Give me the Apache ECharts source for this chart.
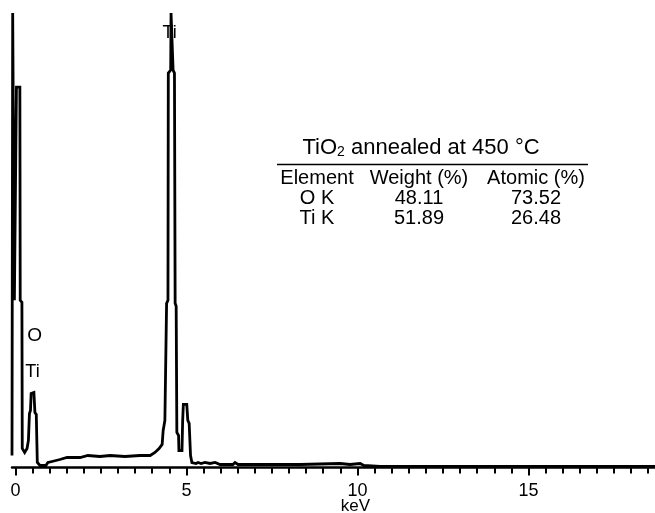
<!DOCTYPE html>
<html>
<head>
<meta charset="utf-8">
<script src="https://cdn.jsdelivr.net/npm/echarts@6/dist/echarts.min.js"></script>
<style>
html,body{margin:0;padding:0;background:#fff;}
#chart{width:655px;height:513px;}
</style>
</head>
<body>
<div id="chart"></div>
<script>
// Spectrum trace: energy (keV) and counts (arbitrary units)
var energy = [-0.10,-0.08,-0.05,-0.03,0.01,0.03,0.13,0.14,0.19,0.20,0.27,0.34,0.38,0.41,0.44,0.46,0.54,0.57,0.61,0.64,0.72,0.89,0.95,1.07,1.30,1.51,1.89,2.12,2.47,2.77,3.20,3.64,3.94,4.08,4.20,4.29,4.32,4.37,4.42,4.46,4.47,4.54,4.55,4.59,4.61,4.65,4.67,4.70,4.72,4.77,4.78,4.87,4.89,4.91,5.01,5.04,5.08,5.12,5.16,5.28,5.34,5.43,5.54,5.69,5.84,5.98,6.36,6.42,6.51,7.15,8.32,9.49,9.78,10.08,10.19,10.66,18.70];
var counts = [12,454,454,167,167,380,380,167,165,19,15,19,27,54,57,74,75,55,53,5,2,2,5,6,8,10,10,12,11,12,11,12,12,15,19,23,37,47,164,167,394,397,454,454,397,394,164,161,35,32,17,17,47,63,63,47,44,12,5,4,5,4,5,4,5,3,3,5,3,3,3,4,3,4,2,1,1];

// Peak annotations
var peakLabels = ['O', 'Ti', 'Ti'];
var peakEnergy = [0.56, 0.50, 4.51];
var peakCounts = [132, 95, 434];
var peakFont = [19, 18, 18];

// Axis
var majorTicks = [0, 5, 10, 15];
var minorTicks = [0,0.5,1,1.5,2,2.5,3,3.5,4,4.5,5,5.5,6,6.5,7,7.5,8,8.5,9,9.5,10,10.5,11,11.5,12,12.5,13,13.5,14,14.5,15,15.5,16,16.5,17,17.5,18,18.5];
var axisTitle = 'keV';

// Table
var tableTitle = 'TiO{sub|2} annealed at 450 °C';
var tableHeader = ['Element', 'Weight (%)', 'Atomic (%)'];
var tableElement = ['O K', 'Ti K'];
var tableWeight = ['48.11', '51.89'];
var tableAtomic = ['73.52', '26.48'];

var FONT = '"Liberation Sans", Arial, Helvetica, sans-serif';

var seriesData = energy.map(function (e, i) { return [e, counts[i]]; });
var markData = peakLabels.map(function (t, i) {
  return {
    name: t, coord: [peakEnergy[i], peakCounts[i]],
    label: { fontSize: peakFont[i] }
  };
});

var colX = [317, 419, 536];
var rowY = [178, 198, 218];
var tableEls = [];
tableEls.push({
  type: 'text', x: 421, y: 148,
  style: {
    text: tableTitle, fill: '#000', font: '22px ' + FONT,
    align: 'center', verticalAlign: 'middle',
    rich: { sub: { fontSize: 14, fontFamily: FONT, fill: '#000', verticalAlign: 'bottom', padding: [9, 0, 0, 0] } }
  }
});
tableEls.push({
  type: 'line', shape: { x1: 277, y1: 164.5, x2: 588, y2: 164.5 },
  style: { stroke: '#000', lineWidth: 1.5 }
});
tableHeader.forEach(function (h, j) {
  tableEls.push({ type: 'text', x: colX[j], y: rowY[0],
    style: { text: h, fill: '#000', font: '20px ' + FONT, align: 'center', verticalAlign: 'middle' } });
});
var cols = [tableElement, tableWeight, tableAtomic];
cols.forEach(function (col, j) {
  col.forEach(function (v, i) {
    tableEls.push({ type: 'text', x: colX[j], y: rowY[i + 1],
      style: { text: v, fill: '#000', font: '20px ' + FONT, align: 'center', verticalAlign: 'middle' } });
  });
});

var chart = echarts.init(document.getElementById('chart'), null, { renderer: 'canvas' });
chart.setOption({
  animation: false,
  backgroundColor: '#fff',
  grid: { left: 12, right: 0, top: 7, bottom: 45.5, containLabel: false, outerBoundsMode: 'none' },
  xAxis: [{
    type: 'value', min: -0.1, max: 18.7, position: 'bottom',
    axisLine: { show: true, onZero: false, lineStyle: { color: '#000', width: 2.5 } },
    axisTick: { show: true, customValues: minorTicks, length: 6, inside: false, lineStyle: { color: '#000', width: 2 } },
    axisLabel: { show: false },
    splitLine: { show: false }
  }, {
    type: 'value', min: -0.1, max: 18.7, position: 'bottom',
    axisLine: { show: false, onZero: false },
    axisTick: { show: true, customValues: majorTicks, length: 8, lineStyle: { color: '#000', width: 2 } },
    axisLabel: { show: true, customValues: majorTicks, color: '#000', fontSize: 18, fontFamily: FONT, margin: 15 },
    splitLine: { show: false },
    name: axisTitle, nameLocation: 'middle', nameGap: 30, nameMoveOverlap: false,
    nameTextStyle: { color: '#000', fontSize: 17, fontFamily: FONT, padding: [0, 0, 0, 44] }
  }],
  yAxis: { type: 'value', min: 0, max: 460, show: false },
  series: [{
    type: 'line', xAxisIndex: 0, data: seriesData, symbol: 'none', showSymbol: false,
    lineStyle: { color: '#000', width: 2.8, join: 'miter' }, clip: false,
    markPoint: {
      symbol: 'circle', symbolSize: 0, silent: true,
      label: { show: true, position: 'inside', formatter: '{b}', color: '#000', fontFamily: FONT },
      data: markData
    }
  }],
  graphic: tableEls
});
</script>
</body>
</html>
